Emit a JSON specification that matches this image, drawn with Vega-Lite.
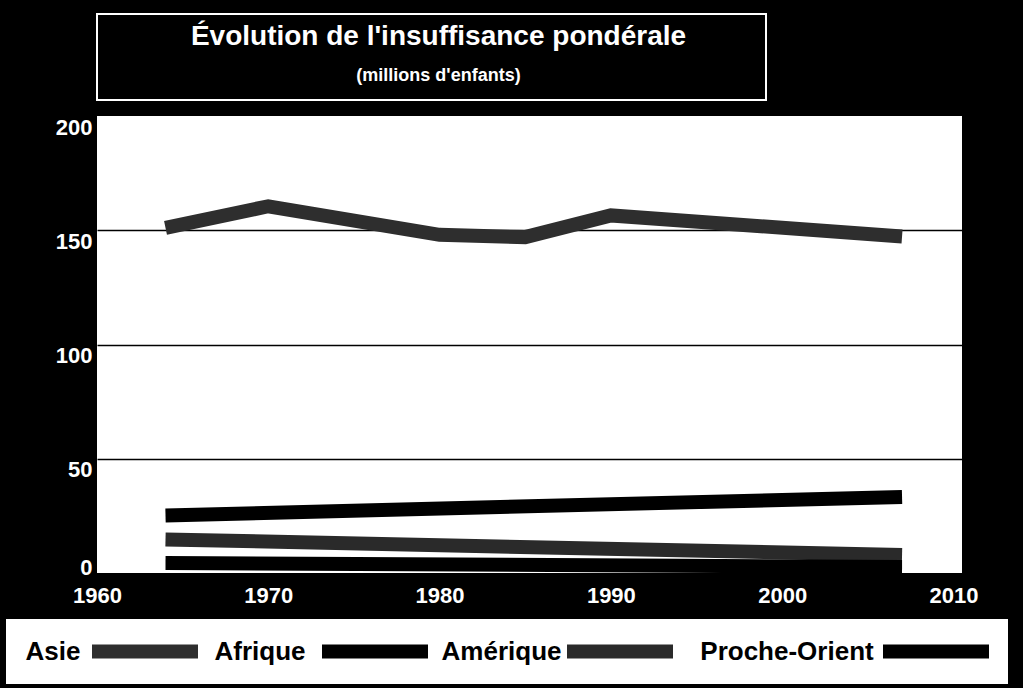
{
  "$schema": "https://vega.github.io/schema/vega-lite/v6.json",
  "background": "black",
  "padding": {"left": 6, "top": 13, "right": 15, "bottom": 6},
  "autosize": {"type": "pad"},
  "bounds": "full",
  "spacing": 13,
  "config": {
    "view": {"stroke": null},
    "font": "Liberation Sans"
  },
  "datasets": {
    "series": [
      {"region": "Asie", "year": 1964, "value": 151},
      {"region": "Asie", "year": 1970, "value": 160.5},
      {"region": "Asie", "year": 1980, "value": 148},
      {"region": "Asie", "year": 1985, "value": 147},
      {"region": "Asie", "year": 1990, "value": 156.5},
      {"region": "Asie", "year": 2007, "value": 147.3},
      {"region": "Afrique", "year": 1964, "value": 25.2},
      {"region": "Afrique", "year": 2007, "value": 33.3},
      {"region": "Amérique", "year": 1964, "value": 14.7},
      {"region": "Amérique", "year": 2007, "value": 7.9},
      {"region": "Proche-Orient", "year": 1964, "value": 4.4},
      {"region": "Proche-Orient", "year": 2007, "value": 2.6}
    ],
    "regions": [
      {"region": "Asie"},
      {"region": "Afrique"},
      {"region": "Amérique"},
      {"region": "Proche-Orient"}
    ],
    "titles": [
      {"k": "t", "txt": "Évolution de l'insuffisance pondérale"},
      {"k": "s", "txt": "(millions d'enfants)"}
    ]
  },
  "vconcat": [
    {
      "bounds": "flush",
      "spacing": 0,
      "hconcat": [
        {
          "width": 91,
          "height": 1,
          "view": {"fill": "black", "stroke": null},
          "data": {"values": []},
          "mark": "text"
        },
        {
          "bounds": "flush",
          "spacing": 16,
          "vconcat": [
            {
              "width": 669,
              "height": 86,
              "view": {"stroke": "white", "strokeWidth": 2, "fill": "black"},
              "data": {"name": "titles"},
              "layer": [
                {
                  "transform": [{"filter": "datum.k == 't'"}],
                  "mark": {"type": "text", "font": "Liberation Sans", "fontWeight": "bold", "fontSize": 28, "color": "white", "baseline": "alphabetic", "align": "center", "dx": 7},
                  "encoding": {
                    "text": {"field": "txt"},
                    "y": {"field": "k", "type": "nominal", "scale": {"type": "point", "domain": ["t", "s"], "range": [31, 67], "padding": 0}, "axis": null}
                  }
                },
                {
                  "transform": [{"filter": "datum.k == 's'"}],
                  "mark": {"type": "text", "font": "Liberation Sans", "fontWeight": "bold", "fontSize": 18, "color": "white", "baseline": "alphabetic", "align": "center", "dx": 7},
                  "encoding": {
                    "text": {"field": "txt"},
                    "y": {"field": "k", "type": "nominal", "scale": {"type": "point", "domain": ["t", "s"], "range": [31, 67], "padding": 0}, "axis": null}
                  }
                }
              ]
            },
            {
              "width": 865,
              "height": 457,
              "view": {"fill": "white", "stroke": null},
              "data": {"name": "series"},
              "mark": {"type": "line", "strokeWidth": 14, "strokeCap": "butt", "strokeJoin": "miter"},
              "encoding": {
                "x": {
                  "field": "year", "type": "quantitative",
                  "scale": {"domain": [1960, 2010.5], "nice": false, "zero": false},
                  "axis": {
                    "values": [1960, 1970, 1980, 1990, 2000, 2010],
                    "format": "d",
                    "title": null,
                    "grid": false,
                    "domain": false,
                    "ticks": false,
                    "tickSize": 0,
                    "labelPadding": 12,
                    "labelFlush": false,
                    "labelColor": "white",
                    "labelFont": "Liberation Sans",
                    "labelFontWeight": "bold",
                    "labelFontSize": 22,
                    "labelOverlap": false
                  }
                },
                "y": {
                  "field": "value", "type": "quantitative",
                  "scale": {"domain": [0, 200], "nice": false},
                  "axis": {
                    "values": [0, 50, 100, 150, 200],
                    "title": null,
                    "grid": true,
                    "gridColor": "black",
                    "gridWidth": 1.5,
                    "gridOpacity": {"condition": {"test": "datum.value == 0 || datum.value == 200", "value": 0}, "value": 1},
                    "domain": false,
                    "ticks": false,
                    "tickSize": 0,
                    "labelPadding": 5,
                    "labelFlush": false,
                    "labelColor": "white",
                    "labelFont": "Liberation Sans",
                    "labelFontWeight": "bold",
                    "labelFontSize": 22,
                    "labelBaseline": {"condition": {"test": "datum.value == 0", "value": "alphabetic"}, "value": "top"},
                    "labelOffset": 1,
                    "labelOverlap": false
                  }
                },
                "color": {
                  "field": "region", "type": "nominal",
                  "scale": {"domain": ["Asie", "Afrique", "Amérique", "Proche-Orient"], "range": ["#2e2e2e", "#000000", "#2a2a2a", "#000000"]},
                  "legend": null
                }
              }
            }
          ]
        }
      ]
    },
    {
      "bounds": "flush",
      "spacing": 0,
      "hconcat": [
        {
          "width": 86, "height": 65,
          "view": {"fill": "white", "stroke": null},
          "data": {"name": "regions"},
          "transform": [{"filter": "datum.region == 'Asie'"}],
          "mark": {"type": "text", "font": "Liberation Sans", "fontWeight": "bold", "fontSize": 26, "color": "black", "baseline": "middle", "align": "center", "dx": 4},
          "encoding": {"text": {"field": "region"}}
        },
        {
          "width": 106, "height": 65,
          "view": {"fill": "white", "stroke": null},
          "data": {"name": "regions"},
          "transform": [{"filter": "datum.region == 'Asie'"}],
          "mark": {"type": "tick", "orient": "horizontal", "size": 106, "thickness": 14, "opacity": 1},
          "encoding": {"color": {"field": "region", "type": "nominal", "scale": {"domain": ["Asie", "Afrique", "Amérique", "Proche-Orient"], "range": ["#2e2e2e", "#000000", "#2a2a2a", "#000000"]}, "legend": null}}
        },
        {
          "width": 124, "height": 65,
          "view": {"fill": "white", "stroke": null},
          "data": {"name": "regions"},
          "transform": [{"filter": "datum.region == 'Afrique'"}],
          "mark": {"type": "text", "font": "Liberation Sans", "fontWeight": "bold", "fontSize": 26, "color": "black", "baseline": "middle", "align": "center"},
          "encoding": {"text": {"field": "region"}}
        },
        {
          "width": 106, "height": 65,
          "view": {"fill": "white", "stroke": null},
          "data": {"name": "regions"},
          "transform": [{"filter": "datum.region == 'Afrique'"}],
          "mark": {"type": "tick", "orient": "horizontal", "size": 106, "thickness": 14, "opacity": 1},
          "encoding": {"color": {"field": "region", "type": "nominal", "scale": {"domain": ["Asie", "Afrique", "Amérique", "Proche-Orient"], "range": ["#2e2e2e", "#000000", "#2a2a2a", "#000000"]}, "legend": null}}
        },
        {
          "width": 139, "height": 65,
          "view": {"fill": "white", "stroke": null},
          "data": {"name": "regions"},
          "transform": [{"filter": "datum.region == 'Amérique'"}],
          "mark": {"type": "text", "font": "Liberation Sans", "fontWeight": "bold", "fontSize": 26, "color": "black", "baseline": "middle", "align": "center", "dx": 4},
          "encoding": {"text": {"field": "region"}}
        },
        {
          "width": 106, "height": 65,
          "view": {"fill": "white", "stroke": null},
          "data": {"name": "regions"},
          "transform": [{"filter": "datum.region == 'Amérique'"}],
          "mark": {"type": "tick", "orient": "horizontal", "size": 106, "thickness": 14, "opacity": 1},
          "encoding": {"color": {"field": "region", "type": "nominal", "scale": {"domain": ["Asie", "Afrique", "Amérique", "Proche-Orient"], "range": ["#2e2e2e", "#000000", "#2a2a2a", "#000000"]}, "legend": null}}
        },
        {
          "width": 210, "height": 65,
          "view": {"fill": "white", "stroke": null},
          "data": {"name": "regions"},
          "transform": [{"filter": "datum.region == 'Proche-Orient'"}],
          "mark": {"type": "text", "font": "Liberation Sans", "fontWeight": "bold", "fontSize": 26, "color": "black", "baseline": "middle", "align": "center", "dx": 9},
          "encoding": {"text": {"field": "region"}}
        },
        {
          "width": 106, "height": 65,
          "view": {"fill": "white", "stroke": null},
          "data": {"name": "regions"},
          "transform": [{"filter": "datum.region == 'Proche-Orient'"}],
          "mark": {"type": "tick", "orient": "horizontal", "size": 106, "thickness": 14, "opacity": 1},
          "encoding": {"color": {"field": "region", "type": "nominal", "scale": {"domain": ["Asie", "Afrique", "Amérique", "Proche-Orient"], "range": ["#2e2e2e", "#000000", "#2a2a2a", "#000000"]}, "legend": null}}
        },
        {
          "width": 19, "height": 65,
          "view": {"fill": "white", "stroke": null},
          "data": {"values": []},
          "mark": "text"
        }
      ]
    }
  ]
}
